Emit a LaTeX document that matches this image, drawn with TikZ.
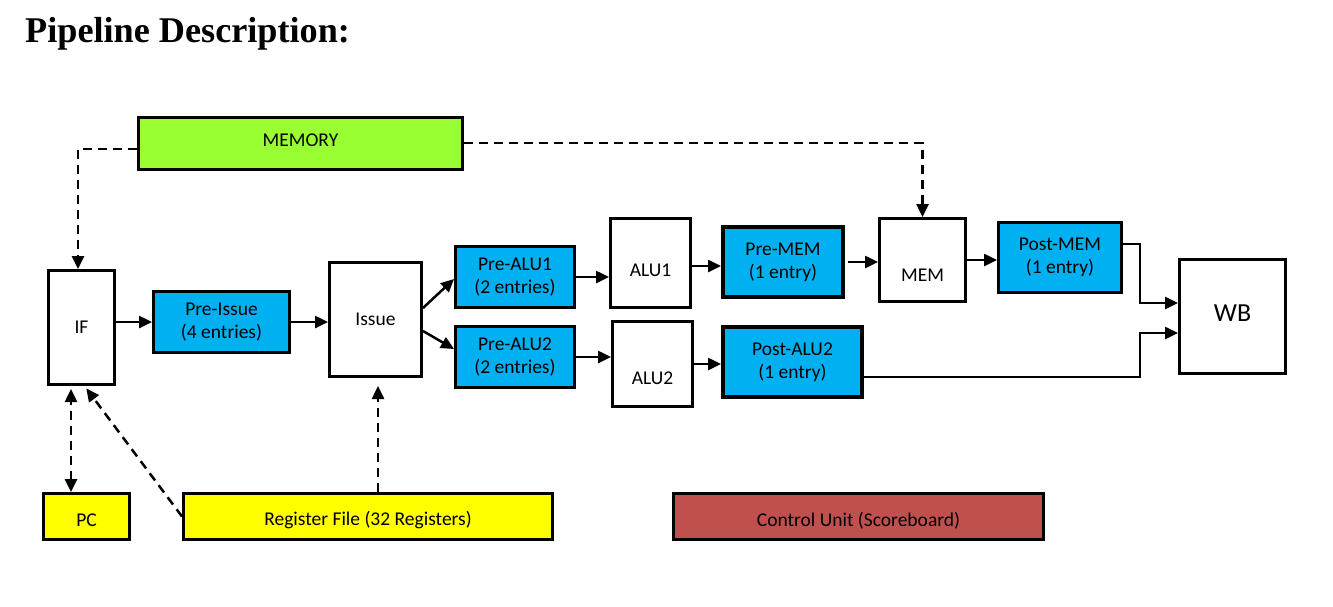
\documentclass[tikz,border=0pt]{standalone}
\usepackage{fontspec}
\setmainfont{Carlito}
\newfontfamily\titlefont{Liberation Serif}
\usetikzlibrary{arrows.meta}
\definecolor{memgreen}{HTML}{99FF33}
\definecolor{bufblue}{HTML}{00B0F0}
\definecolor{regyellow}{HTML}{FFFF00}
\definecolor{ctrlred}{HTML}{C0504D}
\begin{document}
\begin{tikzpicture}[x=1pt,y=-1pt,
  boxfont/.style={font=\fontsize{19.5}{23}\selectfont},
  unit/.style={draw=black, line width=3pt, inner sep=0pt, align=center, boxfont},
  buf/.style={unit, fill=bufblue},
  thickbuf/.style={buf, line width=4pt},
  regbox/.style={unit, fill=regyellow},
  arr/.style={line width=2.5pt, -{Triangle[length=13pt,width=12pt]}},
  darr/.style={arr, dash pattern=on 9pt off 6pt},
]
\useasboundingbox (0,0) rectangle (1333,606);

% heading
\node[anchor=base west, inner sep=0pt, font=\titlefont\bfseries\fontsize{36.2}{40}\selectfont] (title) at (25,42) {Pipeline Description:};

% memory
\node[unit, fill=memgreen, minimum width=324, minimum height=52,
      label={[boxfont, yshift=3.5pt]center:MEMORY}] (mem) at (300.5,143.5) {};

% pipeline stages and buffers
\node[unit, minimum width=66, minimum height=114] (if) at (81.5,327.5) {IF};
\node[buf, minimum width=136, minimum height=61] (preissue) at (221.5,322) {Pre-Issue\\(4 entries)};
\node[unit, minimum width=92, minimum height=114] (issue) at (375.5,319.5) {Issue};
\node[buf, minimum width=119, minimum height=61] (prealu1) at (515,277) {Pre-ALU1\\(2 entries)};
\node[buf, minimum width=119, minimum height=61] (prealu2) at (515,357) {Pre-ALU2\\(2 entries)};
\node[unit, minimum width=80, minimum height=89,
      label={[boxfont, yshift=-7pt]center:ALU1}] (alu1) at (650.5,263) {};
\node[unit, minimum width=80, minimum height=85,
      label={[boxfont, yshift=-14pt]center:ALU2}] (alu2) at (652.5,364) {};
\node[thickbuf, minimum width=120, minimum height=70] (premem) at (783,262) {Pre-MEM\\(1 entry)};
\node[thickbuf, minimum width=139, minimum height=70] (postalu2) at (792.5,362) {Post-ALU2\\(1 entry)};
\node[unit, minimum width=86, minimum height=83,
      label={[boxfont, yshift=-15pt]center:MEM}] (memu) at (922.5,260) {};
\node[buf, minimum width=123, minimum height=70] (postmem) at (1060,257.5) {Post-MEM\\(1 entry)};
\node[unit, minimum width=106, minimum height=114,
      label={[font=\fontsize{26}{30}\selectfont, yshift=3pt]center:WB}] (wb) at (1232.5,316.5) {};

% bottom row
\node[regbox, minimum width=86, minimum height=46,
      label={[boxfont, yshift=-3.5pt]center:PC}] (pc) at (86.5,516.5) {};
\node[regbox, minimum width=369, minimum height=46,
      label={[boxfont, yshift=-4pt]center:Register File (32 Registers)}] (regfile) at (368,516.5) {};
\node[unit, fill=ctrlred, minimum width=370, minimum height=46,
      label={[boxfont, yshift=-4.5pt]center:Control Unit (Scoreboard)}] (ctrl) at (858.5,516.5) {};

% memory accesses
\draw[darr] ([yshift=-5.5pt]mem.west) -| ([xshift=-3.5pt]if.north);
\draw[darr] ([yshift=0.5pt]mem.east) -| (memu.north);

% datapath
\draw[arr] (preissue.west -| if.east) -- (preissue.west);
\draw[arr] (preissue.east) -- (preissue.east -| issue.west);
\draw[arr] ([yshift=11.5pt]issue.east) -- ([yshift=-2pt]prealu1.west);
\draw[arr] ([yshift=-11.5pt]issue.east) -- ([yshift=8pt]prealu2.west);
\draw[arr] (prealu1.east) -- (prealu1.east -| alu1.west);
\draw[arr] (prealu2.east) -- (prealu2.east -| alu2.west);
\draw[arr] ([yshift=-3pt]alu1.east) -- ([yshift=-3pt]alu1.east -| premem.west);
\draw[arr] (alu2.east) -- (alu2.east -| postalu2.west);
\draw[arr, shorten <=3pt] (premem.east) -- (premem.east -| memu.west);
\draw[arr] (memu.east) -- (memu.east -| postmem.west);
\draw[arr] ([yshift=13.5pt]postmem.east) -| ([xshift=-38pt,yshift=13.5pt]wb.west) -- ([yshift=13.5pt]wb.west);
\draw[arr] ([yshift=-15pt]postalu2.east) -| ([xshift=-38pt,yshift=-16.5pt]wb.west) -- ([yshift=-16.5pt]wb.west);

% register accesses
\draw[darr, {Triangle[length=13pt,width=12pt]}-{Triangle[length=13pt,width=12pt]}, shorten >=3pt]
  ([xshift=-15.5pt]pc.north) -- ([xshift=-15.5pt]pc.north |- if.south);
\draw[darr, shorten >=3pt] (regfile.west) -- ([xshift=3pt]if.south);
\draw[darr, shorten >=8pt] ([xshift=10pt]regfile.north) -- ([xshift=10pt]regfile.north |- issue.south);
\end{tikzpicture}
\end{document}
